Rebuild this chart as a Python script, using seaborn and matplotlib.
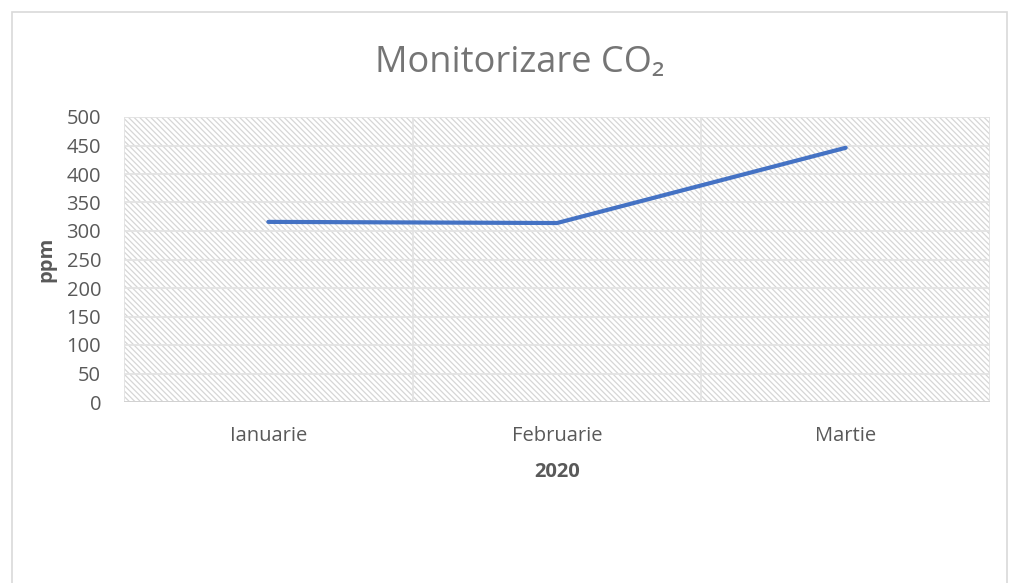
import matplotlib
matplotlib.use("Agg")
import matplotlib.pyplot as plt
import seaborn as sns
import pandas as pd
from matplotlib.patches import Rectangle

months = ["Ianuarie", "Februarie", "Martie"]
co2_ppm = [316, 314, 446]
y_ticks = [0, 50, 100, 150, 200, 250, 300, 350, 400, 450, 500]

sns.set_theme(style="white")
plt.rcParams['font.family'] = ['Open Sans', 'DejaVu Sans']
plt.rcParams['hatch.color'] = '#D6D6D6'
plt.rcParams['hatch.linewidth'] = 0.9

df = pd.DataFrame({"luna": months, "ppm": co2_ppm})

fig = plt.figure(figsize=(10.18, 5.83), dpi=100)
fig.patch.set_facecolor("white")
# outer chart border
fig.patches.append(Rectangle((12/1018, -0.01), (1007-12)/1018, 1 - 12/583 + 0.01,
                             transform=fig.transFigure, fill=False,
                             edgecolor="#D9D9D9", linewidth=1.2))

ax = fig.add_axes([124/1018, 1 - 402/583, (990-124)/1018, (402-117)/583])
ax.set_xlim(-0.5, 2.5)
ax.set_ylim(0, 500)

# hatched plot area background
ax.add_patch(Rectangle((-0.5, 0), 3, 500, facecolor="white", edgecolor="#D6D6D6",
                       hatch="\\\\\\\\\\\\", linewidth=0, zorder=0))

# grid
for y in y_ticks:
    ax.axhline(y, color="#E3E3E3", linewidth=1.3, zorder=1)
for x in [-0.5, 0.5, 1.5, 2.5]:
    ax.axvline(x, color="#E3E3E3", linewidth=1.3, zorder=1)
ax.axhline(0, color="#D0D0D0", linewidth=1.3, zorder=1)

sns.lineplot(data=df, x="luna", y="ppm", ax=ax, color="#4472C4",
             linewidth=3.0, sort=False, zorder=3)

for s in ax.spines.values():
    s.set_visible(False)

ax.set_xticks(range(len(months)))
ax.set_xticklabels(months)
ax.set_yticks(y_ticks)
ax.tick_params(axis="both", length=0, labelsize=14.5, labelcolor="#595959")
ax.tick_params(axis="x", pad=17.5)
ax.tick_params(axis="y", pad=16.5)

ax.set_xlabel("2020", fontsize=14.5, fontweight="bold", color="#595959", labelpad=11)
ax.set_ylabel("ppm", fontsize=14.5, fontweight="bold", color="#595959", labelpad=7)

fig.text(520/1018, 1 - 63/583, "Monitorizare CO₂", ha="center", va="center",
         fontsize=26, color="#757575")

fig.savefig("out.png", dpi=100)
